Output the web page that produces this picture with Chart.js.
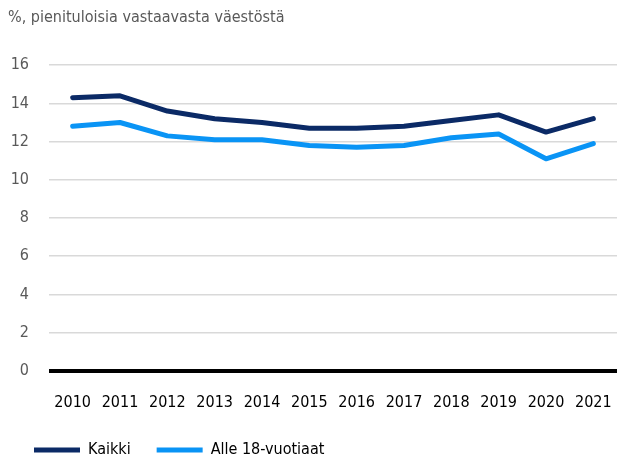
<!DOCTYPE html>
<html>
<head>
<meta charset="utf-8">
<script src="https://cdn.jsdelivr.net/npm/chart.js@4"></script>
<style>
  html, body { margin: 0; padding: 0; background: #fff; }
  #wrap { width: 617px; height: 461px; }
</style>
</head>
<body>
<div id="wrap"><canvas id="lowIncomeChart" width="617" height="461"></canvas></div>
<script>
// values
const years = ["2010", "2011", "2012", "2013", "2014", "2015", "2016", "2017", "2018", "2019", "2020", "2021"];
const kaikki = [14.3, 14.4, 13.6, 13.2, 13.0, 12.7, 12.7, 12.8, 13.1, 13.4, 12.5, 13.2];
const alle18 = [12.8, 13.0, 12.3, 12.1, 12.1, 11.8, 11.7, 11.8, 12.2, 12.4, 11.1, 11.9];
const yTicks = [0, 2, 4, 6, 8, 10, 12, 14, 16];

const font = "'DejaVu Sans Condensed', 'Liberation Sans Narrow', sans-serif";

const ctx = document.getElementById("lowIncomeChart");

new Chart(ctx, {
    type: "line",
    data: {
        labels: years,
        datasets: [
            {
                label: "Kaikki",
                data: kaikki,
                borderColor: "#0b2a66",
                backgroundColor: "#0b2a66",
                borderWidth: 5,
                pointRadius: 0,
                tension: 0,
                borderCapStyle: "round",
                borderJoinStyle: "round"
            },
            {
                label: "Alle 18-vuotiaat",
                data: alle18,
                borderColor: "#0a94f5",
                backgroundColor: "#0a94f5",
                borderWidth: 5,
                pointRadius: 0,
                tension: 0,
                borderCapStyle: "round",
                borderJoinStyle: "round"
            }
        ]
    },
    options: {
        responsive: false,
        animation: false,
        layout: { padding: { left: 8, right: 0, top: 0, bottom: -7 } },
        plugins: {
            title: {
                display: true,
                text: "%, pienituloisia vastaavasta väestöstä",
                align: "start",
                color: "#595959",
                font: { family: font, size: 16, weight: "normal" },
                padding: { top: 8, bottom: 38 }
            },
            legend: {
                position: "bottom",
                align: "start",
                labels: {
                    usePointStyle: true,
                    pointStyle: "line",
                    pointStyleWidth: 46,
                    color: "#000",
                    font: { family: font, size: 16 },
                    padding: 26
                }
            },
            tooltip: { enabled: false }
        },
        scales: {
            x: {
                offset: true,
                grid: { display: false, drawTicks: true, tickLength: 18 },
                border: { display: false },
                ticks: {
                    color: "#000",
                    font: { family: font, size: 16 },
                    maxRotation: 0,
                    autoSkip: false,
                    padding: 4
                }
            },
            y: {
                min: 0,
                max: 16,
                afterBuildTicks: axis => {
                    axis.ticks = yTicks.map(v => ({ value: v }));
                },
                afterFit: axis => {
                    axis.width = 41;
                },
                border: { display: false },
                grid: {
                    color: c => c.tick && c.tick.value === 0 ? "#000" : "#d9d9d9",
                    lineWidth: c => c.tick && c.tick.value === 0 ? 4 : 1.5,
                    drawTicks: false
                },
                ticks: {
                    color: "#595959",
                    font: { family: font, size: 16 },
                    padding: 20
                }
            }
        }
    }
});
</script>
</body>
</html>
